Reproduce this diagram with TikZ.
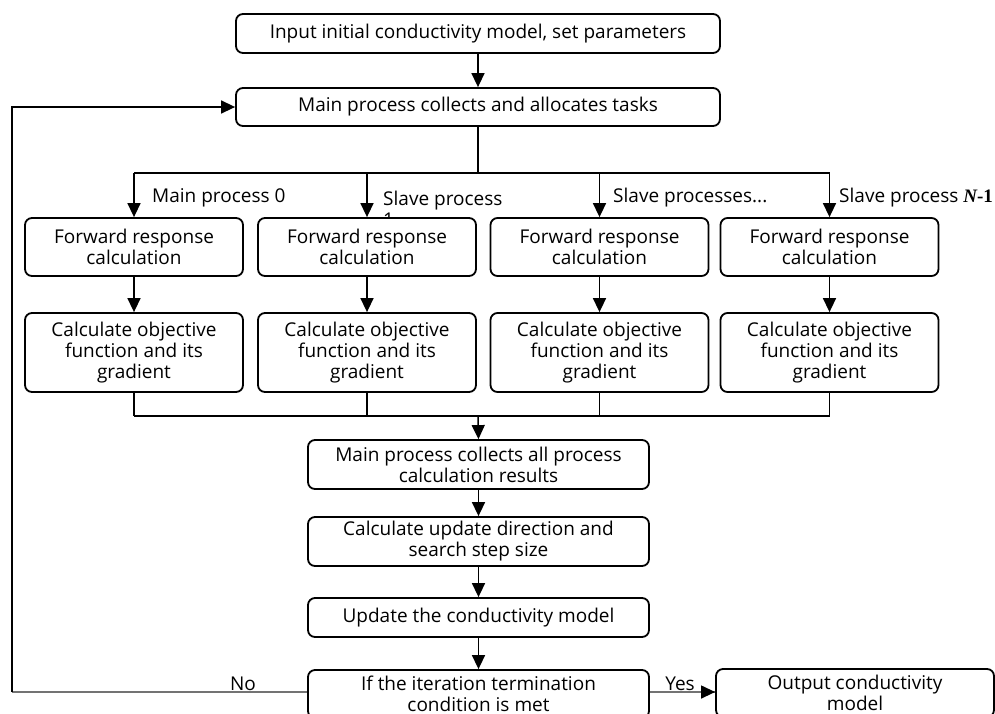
\documentclass[tikz,border=0pt]{standalone}
\usepackage{fontspec}
\setmainfont{Open Sans}
\newfontfamily\tnr{Liberation Serif}
\usetikzlibrary{arrows.meta}
\begin{document}
\begin{tikzpicture}[x=1pt,y=-1pt,
  box/.style={draw=black,line width=1.8pt,rounded corners=7pt,fill=white,align=center,
    inner sep=0pt,font=\fontsize{19}{21}\selectfont},
  conn/.style={line width=1.5pt,draw=black},
  arr/.style={conn,-{Triangle[width=13pt,length=14pt]}},
  grayl/.style={line width=1.3pt,draw=black!55},
  lab/.style={inner sep=0pt,font=\fontsize{19}{21}\selectfont,align=left}]
\useasboundingbox (0,0) rectangle (995,713);
\begin{scope}
\clip (0,0) rectangle (995,713);
% labels (drawn first so boxes may cover them)
\node[lab,anchor=west] (l1) at (152,198) {Main process 0};
\node[lab,anchor=north west] (l2) at (383,191) {Slave process\\1};
\node[lab,anchor=west] (l3) at (613,198) {Slave processes...};
\node[lab,anchor=west] (l4) at (839,198) {Slave process {\tnr\bfseries\itshape N}{\tnr\bfseries -1}};
\node[lab] (lno) at (243,684) {No};
\node[lab] (lyes) at (680,684) {Yes};

% boxes
\node[box,minimum width=484pt,minimum height=39pt] (top) at (478,33.5) {Input initial conductivity model, set parameters};
\node[box,minimum width=484pt,minimum height=38pt] (alloc) at (478,107) {Main process collects and allocates tasks};
\foreach \i/\x in {1/134,2/367,3/599.5,4/829.5}{
  \node[box,minimum width=218pt,minimum height=58pt] (f\i) at (\x,247) {Forward response\\calculation};
  \node[box,minimum width=218pt,minimum height=79pt] (g\i) at (\x,352.5) {Calculate objective\\function and its\\gradient};
}
\node[box,minimum width=341pt,minimum height=49pt] (coll) at (478.5,464.5) {Main process collects all process\\calculation results};
\node[box,minimum width=341pt,minimum height=49pt] (cud) at (478.5,541.5) {Calculate update direction and\\search step size};
\node[box,minimum width=341pt,minimum height=39pt] (upd) at (478.5,617.5) {Update the conductivity model};
\node[box,minimum width=341pt,minimum height=48pt] (iter) at (478.5,694) {If the iteration termination\\condition is met};
\node[box,minimum width=278pt,minimum height=48pt] (out) at (855,693) {Output conductivity\\model};

% coordinates
\coordinate (split) at (478,173);
\coordinate (join) at (478,416);
\coordinate (fb) at (12,692);

% connectors
\draw[arr] (top) -- (alloc);
\draw[conn] (alloc.south) -- (split);
\draw[conn] (f1.north |- split) -- (f4.north |- split);
\foreach \i in {1,2,3,4}{
  \draw[arr] (f\i.north |- split) -- (f\i.north);
  \draw[arr] (f\i) -- (g\i);
  \draw[conn] (g\i.south) -- (g\i.south |- join);
}
\draw[conn] (g1.south |- join) -- (g4.south |- join);
\draw[arr] (join) -- (coll.north);
\draw[arr] (coll) -- (cud);
\draw[arr] (cud) -- (upd);
\draw[arr] (upd) -- (iter);
\draw[grayl] (iter.west |- fb) -- (fb);
\draw[arr] (fb) |- (alloc.west);
\draw[grayl] (iter.east |- fb) -- (out.west |- fb);
\draw[-{Triangle[width=13pt,length=14pt]},line width=1.3pt,black] ([xshift=-2pt]out.west |- fb) -- (out.west |- fb);
\end{scope}
\end{tikzpicture}
\end{document}
